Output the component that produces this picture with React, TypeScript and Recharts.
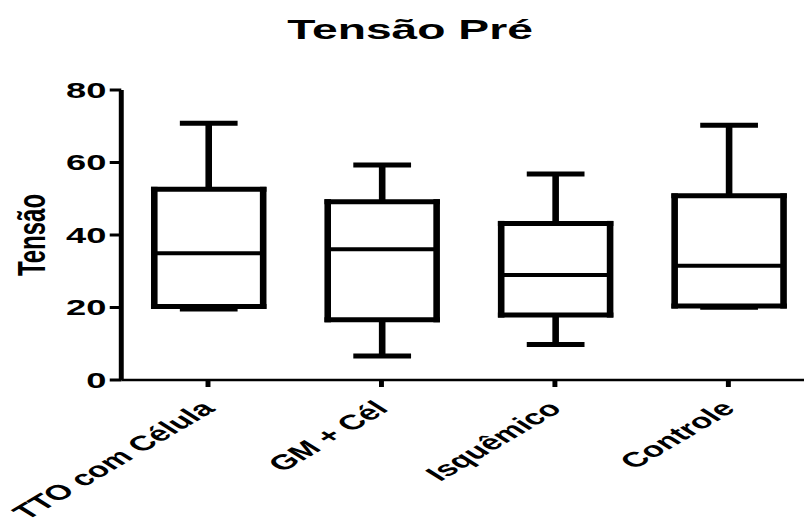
import { ComposedChart, Bar, XAxis, YAxis } from "recharts";

const categories = ["TTO com Célula", "GM + Cél", "Isquêmico", "Controle"];
const minValues = [19.6, 6.6, 9.8, 20.1];
const q1Values = [20.3, 16.6, 17.9, 20.4];
const medianValues = [35.0, 36.1, 29.0, 31.5];
const q3Values = [52.6, 49.2, 43.2, 50.8];
const maxValues = [70.8, 59.3, 56.8, 70.3];
const yTicks = [0, 20, 40, 60, 80];

const data = categories.map((name, i) => ({
  name,
  min: minValues[i],
  q1: q1Values[i],
  median: medianValues[i],
  q3: q3Values[i],
  max: maxValues[i],
  box: [q1Values[i], q3Values[i]],
}));

// Prism-style export is stretched sideways, so the chart is laid out narrow and scaled
const STRETCH = 1.65;
const CHART_W = 494;
const CHART_H = 519;
const FONT = "'Liberation Sans', Arial, sans-serif";

function BoxShape(props: any) {
  const { x, y, width, height, payload } = props;
  const { min, q1, median, q3, max } = payload;
  // pixels per unit, taken from the bar the library placed for [q1, q3]
  const unit = height / (q3 - q1);
  const py = (v: number) => y + (q3 - v) * unit;
  const cx = x + width / 2;
  const cap = width / 4;
  const bottom = y + height;
  return (
    <g stroke="#000" fill="none">
      <line x1={cx} x2={cx} y1={py(max)} y2={y} strokeWidth={4} />
      <line x1={cx} x2={cx} y1={bottom} y2={py(min)} strokeWidth={4} />
      <line x1={cx - cap} x2={cx + cap} y1={py(max)} y2={py(max)} strokeWidth={5} />
      <line x1={cx - cap} x2={cx + cap} y1={py(min)} y2={py(min)} strokeWidth={5} />
      <line x1={x + 2} x2={x + 2} y1={y - 2.5} y2={bottom + 2.5} strokeWidth={4} />
      <line x1={x + width - 2} x2={x + width - 2} y1={y - 2.5} y2={bottom + 2.5} strokeWidth={4} />
      <line x1={x} x2={x + width} y1={y} y2={y} strokeWidth={5} />
      <line x1={x} x2={x + width} y1={bottom} y2={bottom} strokeWidth={5} />
      <line x1={x + 3} x2={x + width - 3} y1={py(median)} y2={py(median)} strokeWidth={4} />
    </g>
  );
}

function XTick(props: any) {
  const { x, y, payload } = props;
  const tx = x + 5;
  const ty = y + 21;
  return (
    <text
      x={tx}
      y={ty}
      textAnchor="end"
      transform={`rotate(-44, ${tx}, ${ty})`}
      fontFamily={FONT}
      fontWeight="bold"
      fontSize={21}
      fill="#000"
    >
      {payload.value}
    </text>
  );
}

function YLabel(props: any) {
  const vb = props.viewBox || { y: 90, height: 290 };
  const cy = vb.y + vb.height / 2;
  return (
    <text
      x={27}
      y={cy}
      textAnchor="middle"
      transform={`rotate(-90, 27, ${cy})`}
      fontFamily={FONT}
      fontWeight="bold"
      fontSize={24}
      fill="#000"
    >
      Tensão
    </text>
  );
}

export default function App() {
  return (
    <div
      style={{
        position: "fixed",
        left: 0,
        top: 0,
        width: 804,
        height: 519,
        overflow: "hidden",
        background: "#fff",
      }}
    >
      <div
        style={{
          position: "relative",
          width: CHART_W,
          height: CHART_H,
          transform: `scaleX(${STRETCH})`,
          transformOrigin: "0 0",
        }}
      >
        <div
          style={{
            position: "absolute",
            left: 0,
            top: 16,
            width: 497,
            textAlign: "center",
            fontFamily: FONT,
            fontWeight: "bold",
            fontSize: 28,
            lineHeight: "28px",
            color: "#000",
          }}
        >
          Tensão Pré
        </div>
        <ComposedChart
          width={CHART_W}
          height={CHART_H}
          data={data}
          margin={{ top: 90, right: 0, bottom: 0, left: 0 }}
        >
          <XAxis
            dataKey="name"
            type="category"
            height={139}
            padding={{ left: 0, right: 0 }}
            axisLine={{ stroke: "#000", strokeWidth: 2.5 }}
            tickLine={{ stroke: "#000", strokeWidth: 3 }}
            tickSize={7}
            tick={<XTick />}
            interval={0}
          />
          <YAxis
            width={73.5}
            domain={[0, 80]}
            ticks={yTicks}
            axisLine={{ stroke: "#000", strokeWidth: 3 }}
            tickLine={{ stroke: "#000", strokeWidth: 3 }}
            tickSize={7}
            tickMargin={2}
            tick={{ fontFamily: FONT, fontWeight: "bold", fontSize: 22, fill: "#000" }}
            label={<YLabel />}
          />
          <Bar
            dataKey="box"
            barSize={70}
            shape={<BoxShape />}
            isAnimationActive={false}
          />
        </ComposedChart>
      </div>
    </div>
  );
}
